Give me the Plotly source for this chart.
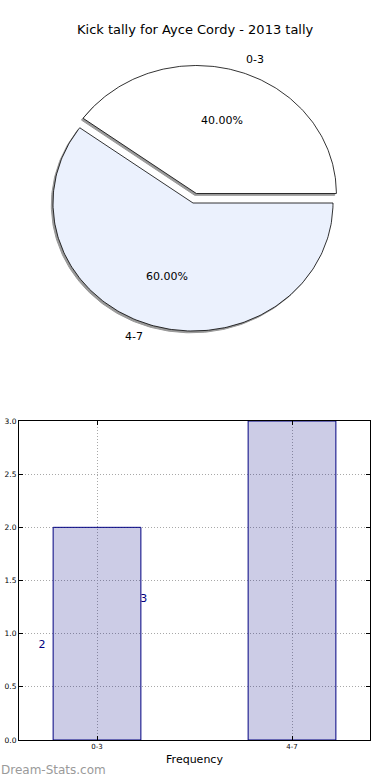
import numpy as np
import plotly.graph_objects as go

# ---- data ----
title_text = "Kick tally for Ayce Cordy - 2013 tally"
categories = ["0-3", "4-7"]
counts = [2, 3]
pie_colors = ["#FFFFFF", "#EBF1FD"]
explode = [0.078, 0.0]
stray_labels = ["2", "3"]
stray_x = [-0.282, 0.24]
stray_y = [0.89, 1.32]
y_ticks = [0.0, 0.5, 1.0, 1.5, 2.0, 2.5, 3.0]

fig = go.Figure()

# ---- pie (drawn on its own x/y axes, ellipse via axis scaling) ----
vals = np.array(counts, dtype=float)
fracs = vals / vals.sum()
starts = np.concatenate([[0], np.cumsum(fracs)[:-1]]) * 360.0
ends = np.cumsum(fracs) * 360.0

def wedge(a0, a1, cx, cy):
    t = np.radians(np.linspace(a0, a1, 200))
    xs = np.concatenate([[cx], cx + np.cos(t), [cx]])
    ys = np.concatenate([[cy], cy + np.sin(t), [cy]])
    return xs, ys

sh_dx, sh_dy = -0.012, -0.014
# shadows
for i in range(len(counts)):
    mid = np.radians((starts[i] + ends[i]) / 2)
    cx, cy = explode[i] * np.cos(mid), explode[i] * np.sin(mid)
    xs, ys = wedge(starts[i], ends[i], cx + sh_dx, cy + sh_dy)
    fig.add_trace(go.Scatter(x=xs, y=ys, fill="toself", fillcolor="#999999",
                             line=dict(color="#999999", width=1), mode="lines",
                             hoverinfo="skip", showlegend=False, xaxis="x", yaxis="y"))
# wedges
for i in range(len(counts)):
    mid = np.radians((starts[i] + ends[i]) / 2)
    cx, cy = explode[i] * np.cos(mid), explode[i] * np.sin(mid)
    xs, ys = wedge(starts[i], ends[i], cx, cy)
    fig.add_trace(go.Scatter(x=xs, y=ys, fill="toself", fillcolor=pie_colors[i],
                             line=dict(color="black", width=0.8), mode="lines",
                             name=categories[i], showlegend=False, xaxis="x", yaxis="y"))
    # labels
    lx, ly = cx + 1.1 * np.cos(mid), cy + 1.1 * np.sin(mid)
    fig.add_annotation(x=lx, y=ly, xref="x", yref="y", text=categories[i], showarrow=False,
                       xanchor="left" if np.cos(mid) >= 0 else "right", yanchor="middle",
                       font=dict(family="DejaVu Sans", size=11, color="black"))
    px_, py_ = cx + 0.6 * np.cos(mid), cy + 0.6 * np.sin(mid)
    fig.add_annotation(x=px_, y=py_, xref="x", yref="y", text=f"{fracs[i]*100:.2f}%",
                       showarrow=False, xanchor="center", yanchor="middle",
                       font=dict(family="DejaVu Sans", size=11, color="black"))

# ---- bar chart ----
xpos = list(range(len(categories)))
fig.add_trace(go.Bar(x=xpos, y=counts, width=0.45, marker=dict(color="rgba(0,0,128,0.2)",
                     line=dict(color="#000080", width=1)), showlegend=False,
                     xaxis="x2", yaxis="y2"))
fig.add_trace(go.Scatter(x=stray_x, y=stray_y, mode="text", text=stray_labels,
                         textfont=dict(family="DejaVu Sans", size=11, color="#000080"),
                         showlegend=False, hoverinfo="skip", xaxis="x2", yaxis="y2"))

W, H = 390, 780
pcx, pcy = 193, 203   # pie centre in px
rx, ry = 140, 128
pie_h = 400

fig.update_layout(
    width=W, height=H, margin=dict(l=0, r=0, t=0, b=0, autoexpand=False),
    paper_bgcolor="white", plot_bgcolor="rgba(0,0,0,0)",
    xaxis=dict(domain=[0, 1], range=[-pcx / rx, (W - pcx) / rx], visible=False,
               fixedrange=True, automargin=False),
    yaxis=dict(domain=[(H - pie_h) / H, 1], range=[-(pie_h - pcy) / ry, pcy / ry],
               visible=False, fixedrange=True, automargin=False),
    xaxis2=dict(domain=[19 / W, 370 / W], range=[-0.4, 1.4], anchor="y2", automargin=False,
                tickvals=xpos, ticktext=categories, showgrid=True, gridcolor="#a8a8a8",
                griddash="1px,2px", gridwidth=1, zeroline=False, showline=True, linecolor="black",
                linewidth=1, mirror="ticks", ticks="inside", ticklen=4, tickcolor="black",
                tickfont=dict(family="DejaVu Sans", size=7, color="black"),
                title=dict(text="Frequency", font=dict(family="DejaVu Sans", size=11, color="black"),
                           standoff=4)),
    yaxis2=dict(domain=[(H - 740) / H, (H - 421) / H], range=[0, 3], anchor="x2", automargin=False,
                tickvals=y_ticks, ticktext=[f"{v:.1f}" for v in y_ticks],
                showgrid=True, gridcolor="#a8a8a8", griddash="1px,2px", gridwidth=1,
                zeroline=False, showline=True, linecolor="black", linewidth=1, mirror="ticks",
                ticks="inside", ticklen=4, tickcolor="black",
                tickfont=dict(family="DejaVu Sans", size=7.5, color="black")),
)

fig.add_annotation(x=0.5, y=(H - 30) / H, xref="paper", yref="paper", text=title_text,
                   showarrow=False, xanchor="center", yanchor="middle",
                   font=dict(family="DejaVu Sans", size=13, color="black"))
fig.add_annotation(x=-0.003, y=(H - 770) / H, xref="paper", yref="paper", text="Dream-Stats.com",
                   showarrow=False, xanchor="left", yanchor="middle",
                   font=dict(family="DejaVu Sans", size=12, color="#9a9a9a"))

fig.write_html("out.html", config={"displayModeBar": False},
               post_script="document.body.style.margin='0';document.body.style.overflow='hidden';")
